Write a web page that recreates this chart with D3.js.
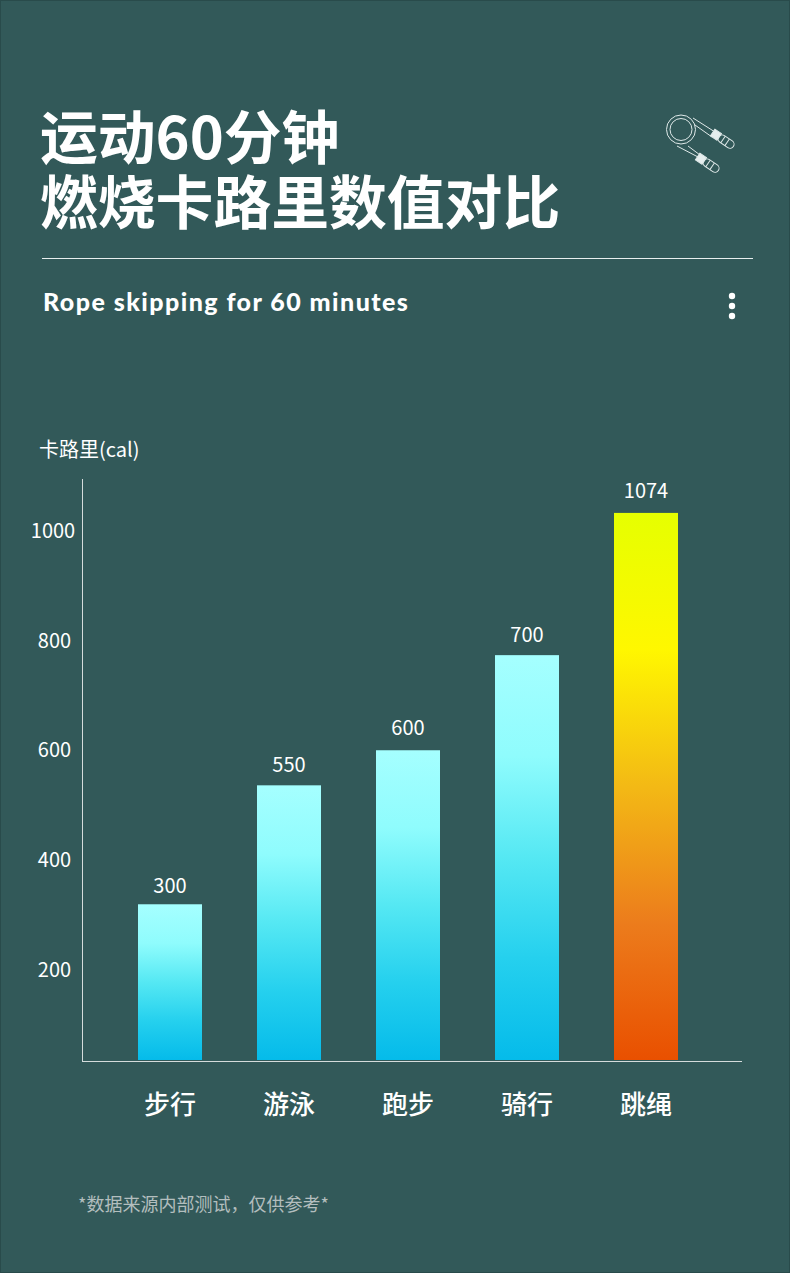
<!DOCTYPE html>
<html lang="zh"><head><meta charset="utf-8">
<style>html,body{margin:0;padding:0;background:#325959}svg{display:block}text{font-family:"Noto Sans CJK SC","Noto Sans",sans-serif;fill:#fff}</style>
<script src="https://cdn.jsdelivr.net/npm/d3@7/dist/d3.min.js"></script>
</head><body><div id="chart"></div>
<script>
// Data
const categories = ["步行","游泳","跑步","骑行","跳绳"];
// Printed labels above the bars
const valueLabels = [300,550,600,700,1074];
// Bar tops as they actually sit against the printed y axis
const barHeightsOnAxis = [319,536,600,773.5,1033];
const yTicks = [200,400,600,800,1000];
const titleLines = ["运动60分钟","燃烧卡路里数值对比"];
const subtitle = "Rope skipping for 60 minutes";
const yAxisTitle = "卡路里(cal)";
const footnote = "*数据来源内部测试，仅供参考*";
const coolStops = ["#a5ffff","#8ffcfd","#55e8f3","#25d0ee","#05bbea"];
const hotStops = ["#e6ff00","#fff700","#f3b915","#ec7c1c","#e95000"];

const W=790,H=1273;
const labelGaps=[11,13,15,13,15];
const svg=d3.select("#chart").append("svg").attr("width",W).attr("height",H);
svg.append("rect").attr("width",W).attr("height",H).attr("fill","#325959");
svg.append("rect").attr("x",.5).attr("y",.5).attr("width",W-1).attr("height",H-1).attr("fill","none").attr("stroke","#294b4b");

const x=d3.scalePoint().domain(categories).range([170,646]);
const y=d3.scaleLinear().domain([200,1000]).range([969.5,531]);
const base=1060, bw=64;
const defs=svg.append("defs");
function grad(id,stops){const g=defs.append("linearGradient").attr("id",id).attr("x1",0).attr("y1",0).attr("x2",0).attr("y2",1);
 stops.forEach((c,i)=>g.append("stop").attr("offset",i/(stops.length-1)).attr("stop-color",c));}
grad("cool",coolStops);grad("hot",hotStops);

// Header
svg.selectAll(".title").data(titleLines).join("text").attr("class","title")
 .attr("x",40).attr("y",(d,i)=>[158.5,224][i]).attr("font-size",57.8).attr("font-weight",700).text(d=>d);
svg.append("line").attr("x1",42).attr("x2",753).attr("y1",258.5).attr("y2",258.5).attr("stroke","#e8eeee").attr("stroke-width",1);
svg.append("text").attr("x",43).attr("y",311).attr("font-size",25).attr("font-weight",900).attr("letter-spacing",1.45)
 .style("font-family","Lato,'Noto Sans',sans-serif").text(subtitle);
svg.selectAll(".dot").data([0,1,2]).join("circle").attr("class","dot").attr("cx",732).attr("cy",d=>296+d*10).attr("r",3.2).attr("fill","#fff");

// Skipping-rope icon
const icon=svg.append("g").attr("fill","none").attr("stroke","#dfe9e9").attr("stroke-width",1);
icon.append("circle").attr("cx",681).attr("cy",129.5).attr("r",14.5);
icon.append("circle").attr("cx",681).attr("cy",129.5).attr("r",11);
icon.append("path").attr("d","M693 118 L715 132 M695 125 L712 137 M677 146 L698 157 M688 146 L700 155");
[[723,139.5],[708,163.5]].forEach(([cx,cy])=>{const g=icon.append("g").attr("transform",`translate(${cx},${cy}) rotate(34)`);
 g.append("rect").attr("x",-12.5).attr("y",-4).attr("width",8).attr("height",8).attr("fill","#e6eeee");
 g.append("rect").attr("x",-5).attr("y",-4).attr("width",17.5).attr("height",8).attr("rx",4);
 g.append("line").attr("x1",0).attr("x2",0).attr("y1",-4).attr("y2",4);
 g.append("line").attr("x1",5).attr("x2",5).attr("y1",-4).attr("y2",4);});

// Axis title and y axis
svg.append("text").attr("x",39).attr("y",457).attr("font-size",20).text(yAxisTitle);
svg.append("line").attr("x1",82.5).attr("x2",82.5).attr("y1",479).attr("y2",1061).attr("stroke","#d5dcdc");
svg.append("line").attr("x1",82).attr("x2",742).attr("y1",1061.5).attr("y2",1061.5).attr("stroke","#d5dcdc");
svg.selectAll(".ytick").data(yTicks).join("text").attr("class","ytick").attr("x",d=>d<1000?54.5:53).attr("y",d=>y(d)+7.2)
 .attr("text-anchor","middle").attr("font-size",20).text(d=>d);

// Bars
svg.selectAll(".bar").data(categories).join("rect").attr("class","bar")
 .attr("x",d=>x(d)-bw/2).attr("width",bw)
 .attr("y",(d,i)=>y(barHeightsOnAxis[i])).attr("height",(d,i)=>base-y(barHeightsOnAxis[i]))
 .attr("fill",(d,i)=>i===4?"url(#hot)":"url(#cool)");
svg.selectAll(".val").data(categories).join("text").attr("class","val").attr("x",d=>x(d))
 .attr("y",(d,i)=>y(barHeightsOnAxis[i])-labelGaps[i]).attr("text-anchor","middle").attr("font-size",20).text((d,i)=>valueLabels[i]);
svg.selectAll(".cat").data(categories).join("text").attr("class","cat").attr("x",d=>x(d))
 .attr("y",1114).attr("text-anchor","middle").attr("font-size",26).attr("font-weight",500).text(d=>d);

svg.append("text").attr("x",78).attr("y",1211).attr("font-size",18).style("fill","#b3bebe").text(footnote);
</script></body></html>
